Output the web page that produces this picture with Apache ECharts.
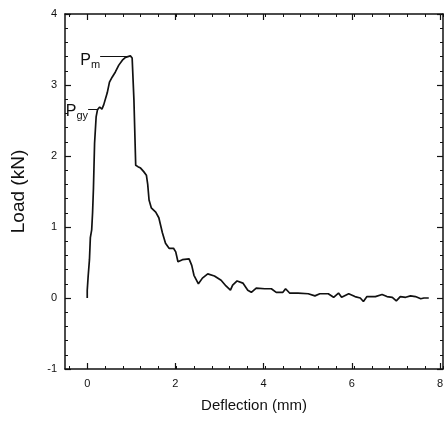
<!DOCTYPE html>
<html>
<head>
<meta charset="utf-8">
<script src="https://cdn.jsdelivr.net/npm/echarts@6/dist/echarts.min.js"></script>
<style>html,body{margin:0;padding:0;background:#fff;}#c{width:446px;height:432px;}</style>
</head>
<body>
<div id="c"></div>
<script>
// Deflection (mm)
var deflection = [0, 0, 0.02, 0.05, 0.07, 0.10, 0.12, 0.14, 0.165, 0.20, 0.23, 0.28, 0.33, 0.37, 0.45, 0.50, 0.56, 0.63, 0.71, 0.79, 0.86, 0.97, 1.01, 1.05, 1.09, 1.14, 1.20, 1.27, 1.33, 1.36, 1.39, 1.44, 1.54, 1.61, 1.69, 1.76, 1.84, 1.94, 1.99, 2.04, 2.14, 2.29, 2.35, 2.40, 2.50, 2.59, 2.71, 2.86, 3.01, 3.12, 3.22, 3.27, 3.37, 3.50, 3.61, 3.69, 3.80, 3.99, 4.14, 4.25, 4.40, 4.46, 4.55, 4.74, 4.97, 5.12, 5.23, 5.42, 5.54, 5.65, 5.72, 5.88, 6.02, 6.14, 6.21, 6.29, 6.48, 6.63, 6.74, 6.86, 6.95, 7.04, 7.16, 7.27, 7.38, 7.50, 7.57, 7.68];
// Load (kN)
var load = [0, 0.11, 0.30, 0.54, 0.85, 0.96, 1.20, 1.55, 2.18, 2.55, 2.65, 2.69, 2.66, 2.72, 2.89, 3.04, 3.11, 3.18, 3.28, 3.35, 3.39, 3.41, 3.38, 2.79, 1.87, 1.85, 1.83, 1.78, 1.73, 1.60, 1.38, 1.27, 1.21, 1.13, 0.92, 0.77, 0.70, 0.70, 0.65, 0.51, 0.54, 0.55, 0.46, 0.32, 0.20, 0.28, 0.34, 0.31, 0.25, 0.17, 0.11, 0.18, 0.24, 0.21, 0.11, 0.08, 0.14, 0.13, 0.13, 0.08, 0.08, 0.13, 0.07, 0.07, 0.06, 0.03, 0.06, 0.06, 0.01, 0.07, 0.01, 0.06, 0.02, 0.00, -0.05, 0.02, 0.02, 0.05, 0.02, 0.01, -0.04, 0.02, 0.01, 0.03, 0.02, -0.01, 0, 0];
// Annotations
var annotNames = ['P', 'P'];
var annotSubs = ['m', 'gy'];
var annotX0 = [0.29, 0.02];
var annotX1 = [0.93, 0.22];
var annotY = [3.41, 2.66];
var xTickLabels = [0, 2, 4, 6, 8];
var yTickLabels = [-1, 0, 1, 2, 3, 4];

var X_MIN = -0.5, X_MAX = 8, MINOR_START = -0.4, MAJOR_START = 0;
var Y_MIN = -1, Y_MAX = 4;

var pts = deflection.map(function (d, i) { return [d, load[i]]; });
var font = 'Liberation Sans, Arial, Helvetica, sans-serif';
var ink = '#111';
var lineStyle = { color: ink, width: 1.5 };

var W = 446, L = 65, R = 3, T = 14, B = 63;
var pxPerUnit = (W - L - R) / (X_MAX - X_MIN);
var gridMinorLeft = L + (MINOR_START - X_MIN) * pxPerUnit;
var gridMajorLeft = L + (MAJOR_START - X_MIN) * pxPerUnit;

function frameX(pos, gridIndex) {
  return {
    type: 'value', gridIndex: gridIndex, position: pos, min: X_MIN, max: X_MAX,
    axisLine: { show: true, onZero: false, lineStyle: lineStyle },
    axisTick: { show: false }, axisLabel: { show: false }, splitLine: { show: false },
    name: pos === 'bottom' ? 'Deflection (mm)' : '', nameLocation: 'middle', nameGap: 29,
    nameTextStyle: { color: ink, fontSize: 15, fontFamily: font }
  };
}
function minorX(pos, gridIndex) {
  return {
    type: 'value', gridIndex: gridIndex, position: pos, min: MINOR_START, max: X_MAX, interval: 0.4,
    axisLine: { show: false, onZero: false },
    axisTick: { show: true, inside: true, length: 3, lineStyle: { color: ink, width: 1 } },
    axisLabel: { show: false }, splitLine: { show: false }
  };
}
function majorX(pos, gridIndex) {
  return {
    type: 'value', gridIndex: gridIndex, position: pos, min: MAJOR_START, max: X_MAX, interval: 2,
    axisLine: { show: false, onZero: false },
    axisTick: { show: true, inside: true, length: 6, lineStyle: { color: ink, width: 1.2 } },
    axisLabel: {
      show: pos === 'bottom', color: ink, fontSize: 11, fontFamily: font, margin: 9,
      formatter: function (v) { return xTickLabels.indexOf(Math.round(v * 1000) / 1000) >= 0 ? String(Math.round(v)) : ''; }
    },
    splitLine: { show: false }
  };
}
function yAx(pos, gridIndex, showAll) {
  return {
    type: 'value', gridIndex: gridIndex, position: pos, min: Y_MIN, max: Y_MAX, interval: 1,
    show: showAll,
    axisLine: { show: true, onZero: false, lineStyle: lineStyle },
    axisTick: { show: true, inside: true, length: 6, lineStyle: { color: ink, width: 1.2 } },
    minorTick: { show: true, splitNumber: 5, length: 3, lineStyle: { color: ink, width: 1 } },
    splitLine: { show: false },
    axisLabel: {
      show: pos === 'left', color: ink, fontSize: 11, fontFamily: font, margin: 8,
      formatter: function (v) { return yTickLabels.indexOf(Math.round(v * 1000) / 1000) >= 0 ? String(Math.round(v)) : ''; }
    },
    name: pos === 'left' ? 'Load (kN)' : '', nameLocation: 'middle', nameGap: 37,
    nameTextStyle: { color: ink, fontSize: 19, fontFamily: font }
  };
}

var markData = annotNames.map(function (n, i) {
  return [
    { coord: [annotX0[i], annotY[i]], label: { formatter: '{p|' + n + '}{s|' + annotSubs[i] + '}', padding: i === 0 ? [9, 0, 0, 0] : [5, 0, 0, 0] } },
    { coord: [annotX1[i], annotY[i]] }
  ];
});

var chart = echarts.init(document.getElementById('c'), null, { renderer: 'canvas' });
chart.setOption({
  animation: false,
  backgroundColor: '#fff',
  grid: [
    { left: L, right: R, top: T, bottom: B },
    { left: gridMinorLeft, right: R, top: T, bottom: B },
    { left: gridMajorLeft, right: R, top: T, bottom: B }
  ],
  xAxis: [frameX('bottom', 0), frameX('top', 0), minorX('bottom', 1), minorX('top', 1), majorX('bottom', 2), majorX('top', 2)],
  yAxis: [yAx('left', 0, true), yAx('right', 0, true), yAx('left', 1, false), yAx('left', 2, false)],
  series: [{
    type: 'line', xAxisIndex: 0, yAxisIndex: 0, data: pts, showSymbol: false, symbol: 'none',
    lineStyle: { color: ink, width: 1.7 },
    markLine: {
      silent: true, symbol: ['none', 'none'],
      lineStyle: { color: ink, width: 1, type: 'solid' },
      label: {
        show: true, position: 'start', distance: 0, color: ink,
        rich: {
          p: { fontSize: 16, fontFamily: font, color: ink },
          s: { fontSize: 11, fontFamily: font, color: ink, padding: [9, 0, 0, 0] }
        }
      },
      data: markData
    }
  }]
});
</script>
</body>
</html>
